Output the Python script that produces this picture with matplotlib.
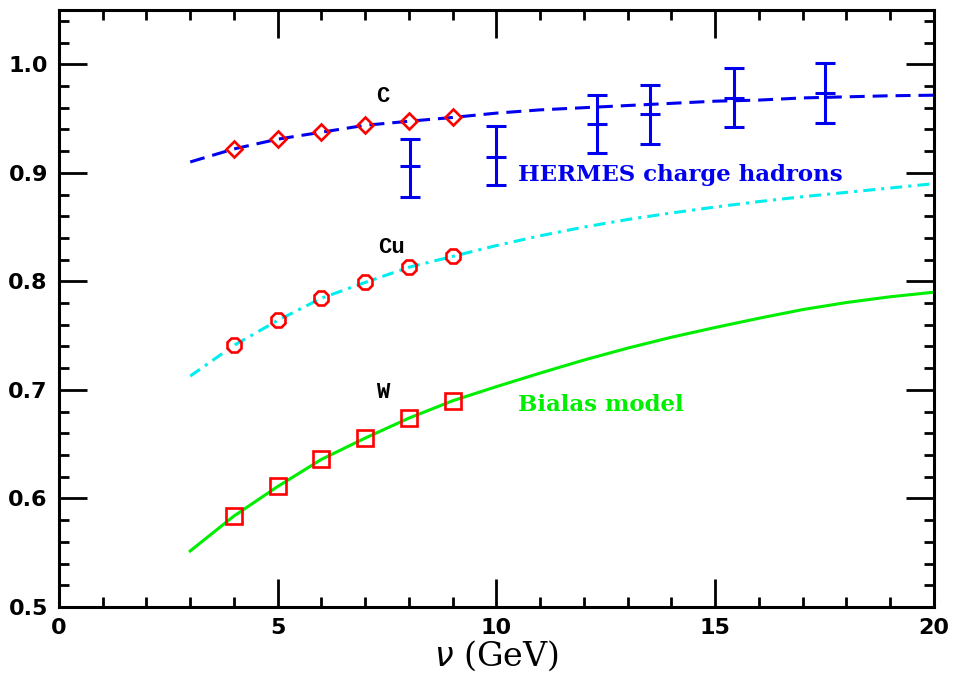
import numpy as np
import matplotlib.pyplot as plt
from matplotlib.ticker import MultipleLocator

# model curves (Bialas model)
nu_curve = [3, 4, 5, 6, 7, 8, 9, 10, 11, 12, 13, 14, 15, 16, 17, 18, 19, 20]
c_curve = [0.910, 0.922, 0.931, 0.9374, 0.9438, 0.9475, 0.951, 0.955, 0.958, 0.960,
           0.962, 0.964, 0.966, 0.967, 0.969, 0.970, 0.971, 0.9715]
cu_curve = [0.7127, 0.741, 0.764, 0.7845, 0.799, 0.813, 0.823, 0.833, 0.842, 0.850,
            0.857, 0.863, 0.8685, 0.8735, 0.878, 0.882, 0.886, 0.890]
w_curve = [0.5516, 0.5838, 0.611, 0.636, 0.6556, 0.674, 0.690, 0.703, 0.7155, 0.7275,
           0.7385, 0.7485, 0.7575, 0.766, 0.774, 0.7805, 0.7858, 0.790]

# model points
nu_pts = [4, 5, 6, 7, 8, 9]
c_pts = [0.922, 0.931, 0.9374, 0.9438, 0.9475, 0.951]
cu_pts = [0.741, 0.764, 0.7845, 0.799, 0.813, 0.823]
w_pts = [0.5838, 0.611, 0.636, 0.6556, 0.674, 0.690]

# HERMES charged hadrons
nu_h = [8.02, 10.0, 12.3, 13.5, 15.43, 17.5]
r_h = [0.906, 0.915, 0.9448, 0.954, 0.969, 0.9736]
err_lo = [0.028, 0.026, 0.027, 0.027, 0.027, 0.0276]
err_hi = [0.025, 0.028, 0.0267, 0.027, 0.028, 0.0274]

fig = plt.figure(figsize=(9.54, 6.85), dpi=100)
ax = fig.add_axes([0.0618, 0.1139, 0.9172, 0.8715])

ax.plot(nu_curve, c_curve, color='#0000ee', lw=2.2, dashes=(4.9, 2.6))
ax.plot(nu_curve, cu_curve, color='#00eeee', lw=2.2, dashes=(3.9, 2, 1, 2))
ax.plot(nu_curve, w_curve, color='#00ee00', lw=2.2)

ax.plot(nu_pts, c_pts, 'D', ms=8.5, mfc='none', mec='red', mew=1.9)
ax.plot(nu_pts, cu_pts, '8', ms=11.5, mfc='none', mec='red', mew=1.9)
ax.plot(nu_pts, w_pts, 's', ms=12, mfc='none', mec='red', mew=1.9)

ax.errorbar(nu_h, r_h, yerr=[err_lo, err_hi], fmt='_', ms=15, mew=2.2,
            color='#0000ee', ecolor='#0000ee', elinewidth=2.2, capsize=7.2, capthick=2.2)

ax.text(7.4, 0.970, 'C', fontsize=16, fontweight='bold', family='Liberation Mono', ha='center', va='center')
ax.text(7.6, 0.831, 'Cu', fontsize=16, fontweight='bold', family='Liberation Mono', ha='center', va='center')
ax.text(7.4, 0.698, 'W', fontsize=16, fontweight='bold', family='Liberation Mono', ha='center', va='center')
ax.text(10.5, 0.898, 'HERMES charge hadrons', fontsize=16.5, fontweight='bold', family='DejaVu Serif',
        color='#0000ee', va='center')
ax.text(10.5, 0.686, 'Bialas model', fontsize=16.5, fontweight='bold', family='DejaVu Serif',
        color='#00ee00', va='center')

ax.set_xlim(0, 20)
ax.set_ylim(0.5, 1.05)
ax.xaxis.set_major_locator(MultipleLocator(5))
ax.xaxis.set_minor_locator(MultipleLocator(1))
ax.yaxis.set_major_locator(MultipleLocator(0.1))
ax.yaxis.set_minor_locator(MultipleLocator(0.02))
ax.yaxis.set_major_formatter(plt.FuncFormatter(lambda v, p: f'{v:.1f}'))
ax.tick_params(which='both', direction='in', top=True, right=True, width=2, labelsize=16)
ax.tick_params(which='major', length=20, pad=8)
ax.tick_params(which='minor', length=7)
for lab in ax.get_xticklabels() + ax.get_yticklabels():
    lab.set_fontweight('bold')
for s in ax.spines.values():
    s.set_linewidth(2.2)

ax.set_xlabel(r'$\nu$ (GeV)', fontsize=24, family='DejaVu Serif', labelpad=0)

fig.savefig('out.png', dpi=100)
